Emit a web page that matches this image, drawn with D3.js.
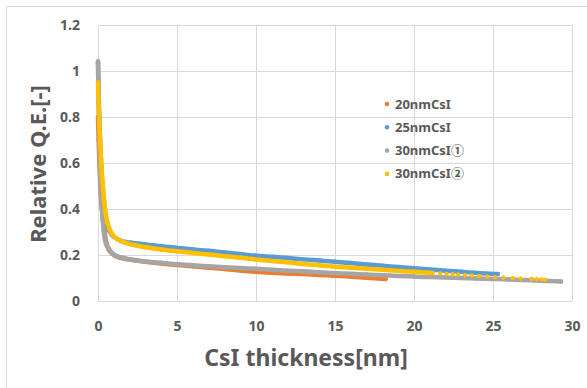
<!DOCTYPE html>
<html>
<head>
<meta charset="utf-8">
<script src="https://cdn.jsdelivr.net/npm/d3@7"></script>
<style>
  body { margin: 0; background: #fff; }
  text { font-family: 'Noto Sans', 'Noto Sans CJK JP', sans-serif; font-weight: bold; fill: #595959; }
</style>
</head>
<body>
<svg id="chart" width="587" height="388"></svg>
<script>
// series data
const thickness20 = [0, 0.04, 0.08, 0.12, 0.17, 0.22, 0.28, 0.34, 0.41, 0.48, 0.56, 0.65, 0.76, 0.9, 1.1, 1.4, 1.8, 2.3, 3, 4, 5, 6, 7, 8, 9, 10, 11, 12, 13, 14, 15, 16, 17, 18.2];
const qe20 = [0.80, 0.70, 0.62, 0.55, 0.47, 0.42, 0.38, 0.345, 0.305, 0.27, 0.245, 0.228, 0.215, 0.205, 0.196, 0.188, 0.182, 0.177, 0.171, 0.163, 0.156, 0.151, 0.145, 0.139, 0.133, 0.127, 0.123, 0.12, 0.117, 0.113, 0.11, 0.106, 0.101, 0.096];

const thickness25 = [0, 0.02, 0.05, 0.08, 0.12, 0.16, 0.21, 0.27, 0.34, 0.42, 0.5, 0.6, 0.72, 0.86, 1.0, 1.2, 1.45, 1.75, 2.1, 2.5, 3, 3.5, 4, 5, 6, 7, 8, 9, 10, 11, 12, 13, 14, 15, 16, 17, 18, 19, 20, 21, 22, 23, 24, 25.3];
const qe25 = [1.04, 0.97, 0.88, 0.80, 0.72, 0.65, 0.58, 0.51, 0.45, 0.40, 0.36, 0.33, 0.305, 0.29, 0.28, 0.27, 0.262, 0.257, 0.253, 0.25, 0.246, 0.242, 0.238, 0.231, 0.224, 0.218, 0.211, 0.204, 0.197, 0.192, 0.187, 0.181, 0.176, 0.171, 0.165, 0.159, 0.153, 0.148, 0.142, 0.137, 0.132, 0.127, 0.122, 0.117];

const thickness30a = [0, 0.02, 0.04, 0.06, 0.09, 0.12, 0.16, 0.2, 0.25, 0.3, 0.36, 0.43, 0.5, 0.58, 0.67, 0.77, 0.9, 1.05, 1.25, 1.5, 1.8, 2.2, 2.7, 3.3, 4, 5, 6, 7, 8, 9, 10, 11, 12, 13, 14, 15, 16, 17, 18, 19, 20, 21, 22, 23, 24, 25, 26, 27, 28, 29.3];
const qe30a = [1.04, 0.95, 0.86, 0.78, 0.69, 0.61, 0.53, 0.46, 0.40, 0.35, 0.305, 0.27, 0.25, 0.238, 0.23, 0.218, 0.208, 0.2, 0.194, 0.189, 0.184, 0.179, 0.174, 0.17, 0.166, 0.16, 0.155, 0.151, 0.147, 0.143, 0.14, 0.136, 0.132, 0.129, 0.125, 0.121, 0.118, 0.115, 0.112, 0.109, 0.106, 0.104, 0.102, 0.1, 0.098, 0.096, 0.094, 0.091, 0.088, 0.085];

const thickness30b = [0, 0.03, 0.06, 0.1, 0.14, 0.19, 0.25, 0.32, 0.4, 0.49, 0.6, 0.72, 0.86, 1.0, 1.2, 1.45, 1.75, 2.1, 2.5, 3, 3.5, 4, 5, 6, 7, 8, 9, 10, 11, 12, 13, 14, 15, 16, 17, 18, 19, 20, 21.18, 21.65, 22.07, 22.45, 22.8, 23.23, 23.65, 24.13, 24.64, 25.13, 25.65, 26.25, 26.75, 27.45, 27.77, 28.08, 28.29];
const qe30b = [0.95, 0.88, 0.82, 0.75, 0.69, 0.62, 0.55, 0.49, 0.43, 0.38, 0.34, 0.315, 0.295, 0.282, 0.27, 0.261, 0.253, 0.246, 0.24, 0.234, 0.229, 0.224, 0.216, 0.209, 0.202, 0.195, 0.188, 0.18, 0.174, 0.168, 0.161, 0.155, 0.149, 0.145, 0.14, 0.136, 0.131, 0.127, 0.122, 0.12, 0.118, 0.117, 0.115, 0.113, 0.111, 0.109, 0.107, 0.104, 0.102, 0.1, 0.098, 0.096, 0.095, 0.094, 0.093];

const seriesNames = ['20nmCsI', '25nmCsI', '30nmCsI\u2460', '30nmCsI\u2461'];
const seriesColors = ['#ED7D31', '#5B9BD5', '#A5A5A5', '#FFC000'];
const xTicks = [0, 5, 10, 15, 20, 25, 30];
const yTicks = [0, 0.2, 0.4, 0.6, 0.8, 1, 1.2];

const series = [
  { name: seriesNames[0], color: seriesColors[0], xs: thickness20, ys: qe20, lineTo: 99 },
  { name: seriesNames[1], color: seriesColors[1], xs: thickness25, ys: qe25, lineTo: 99 },
  { name: seriesNames[2], color: seriesColors[2], xs: thickness30a, ys: qe30a, lineTo: 99 },
  { name: seriesNames[3], color: seriesColors[3], xs: thickness30b, ys: qe30b, lineTo: 21.2 }
].map(s => ({ ...s, points: s.xs.map((x, i) => ({ x, y: s.ys[i] })) }));

const svg = d3.select('#chart');
const margin = { top: 25, right: 15, bottom: 87, left: 98 };
const innerWidth = 474;
const innerHeight = 276;

// outer chart border (right and bottom edges fall off the picture)
svg.append('path')
    .attr('d', 'M6.5,388V6.5H587')
    .attr('fill', 'none')
    .attr('stroke', '#D9D9D9');

const g = svg.append('g')
    .attr('transform', `translate(${margin.left},${margin.top})`);

const xScale = d3.scaleLinear().domain([0, 30]).range([0, innerWidth]);
const yScale = d3.scaleLinear().domain([0, 1.2]).range([innerHeight, 0]);

// x axis with gridlines
const xAxisG = g.append('g')
    .attr('transform', `translate(0,${innerHeight})`)
    .call(d3.axisBottom(xScale).tickValues(xTicks).tickSize(-innerHeight).tickPadding(20));
xAxisG.select('.domain').remove();
xAxisG.selectAll('line').attr('stroke', '#D9D9D9');
xAxisG.selectAll('text').attr('font-size', 14);

// y axis with gridlines
const yAxisG = g.append('g')
    .call(d3.axisLeft(yScale).tickValues(yTicks).tickFormat(d3.format('')).tickSize(-innerWidth).tickPadding(18));
yAxisG.select('.domain').remove();
yAxisG.selectAll('line').attr('stroke', '#D9D9D9');
yAxisG.selectAll('text').attr('font-size', 14);

// axis titles
g.append('text')
    .attr('x', 208)
    .attr('y', 341)
    .attr('text-anchor', 'middle')
    .attr('font-size', 23)
    .text('CsI thickness[nm]');

g.append('text')
    .attr('transform', 'rotate(-90)')
    .attr('x', -139)
    .attr('y', -52)
    .attr('text-anchor', 'middle')
    .attr('font-size', 22)
    .text('Relative Q.E.[-]');

// plot data
const line = d3.line()
    .x(d => xScale(d.x))
    .y(d => yScale(d.y))
    .curve(d3.curveMonotoneX);

series.forEach(s => {
  g.append('path')
      .datum(s.points.filter(d => d.x <= s.lineTo))
      .attr('fill', 'none')
      .attr('stroke', s.color)
      .attr('stroke-width', 4.5)
      .attr('stroke-linecap', 'round')
      .attr('d', line);
  g.append('g')
    .selectAll('circle').data(s.points)
    .enter().append('circle')
      .attr('cx', d => xScale(d.x))
      .attr('cy', d => yScale(d.y))
      .attr('r', 2.2)
      .attr('fill', s.color);
});

// legend
const legend = svg.append('g')
    .attr('transform', 'translate(387,104)');
const legendItems = legend.selectAll('g').data(series)
  .enter().append('g')
    .attr('transform', (d, i) => `translate(0,${i * 23.3})`);
legendItems.append('circle')
    .attr('r', 2.3)
    .attr('fill', d => d.color);
legendItems.append('text')
    .attr('x', 8)
    .attr('dy', '0.35em')
    .attr('font-size', 13)
    .text(d => d.name);
</script>
</body>
</html>
